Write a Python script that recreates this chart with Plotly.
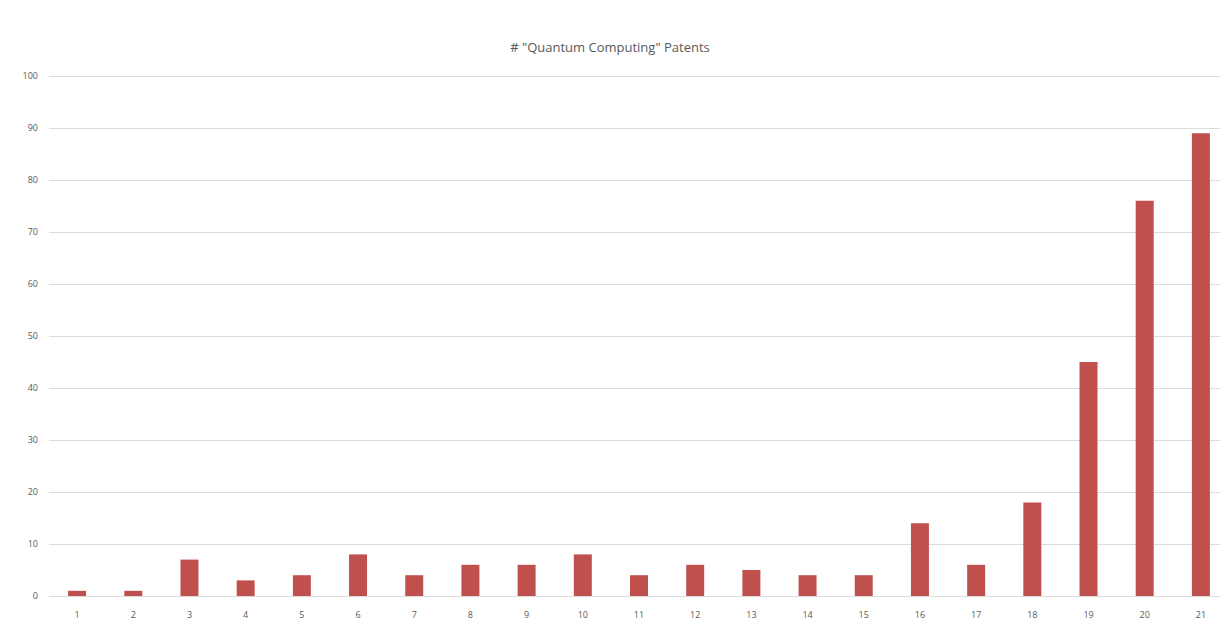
import plotly.graph_objects as go

# Patent counts per period
periods = list(range(1, 22))
patents = [1, 1, 7, 3, 4, 8, 4, 6, 6, 8, 4, 6, 5, 4, 4, 14, 6, 18, 45, 76, 89]
y_ticks = list(range(0, 101, 10))

bar_color = "#c0504d"
grid_color = "#dcdcdc"
text_color = "#595959"

fig = go.Figure(
    go.Bar(
        x=periods,
        y=patents,
        width=0.32,
        marker=dict(color=bar_color, line=dict(width=0)),
    )
)

fig.update_layout(
    width=1220,
    height=626,
    paper_bgcolor="white",
    plot_bgcolor="white",
    margin=dict(l=49, r=0, t=75, b=30),
    showlegend=False,
    title=dict(
        text='# "Quantum Computing" Patents',
        x=0.5,
        xanchor="center",
        y=1 - 47 / 626,
        yanchor="middle",
        font=dict(family="Open Sans", size=13, color=text_color),
    ),
    font=dict(family="Open Sans", size=9, color=text_color),
)

fig.update_xaxes(
    range=[0.5, 21.34],
    tickvals=periods,
    ticktext=[str(p) for p in periods],
    showgrid=False,
    zeroline=False,
    showline=True,
    linecolor=grid_color,
    linewidth=1,
    ticks="",
    ticklabelstandoff=10,
)

fig.update_yaxes(
    range=[0, 100.2],
    tickvals=y_ticks,
    showgrid=True,
    gridcolor=grid_color,
    gridwidth=1,
    zeroline=False,
    showline=False,
    ticks="",
    ticklabelstandoff=10,
)

fig.write_html("out.html")
